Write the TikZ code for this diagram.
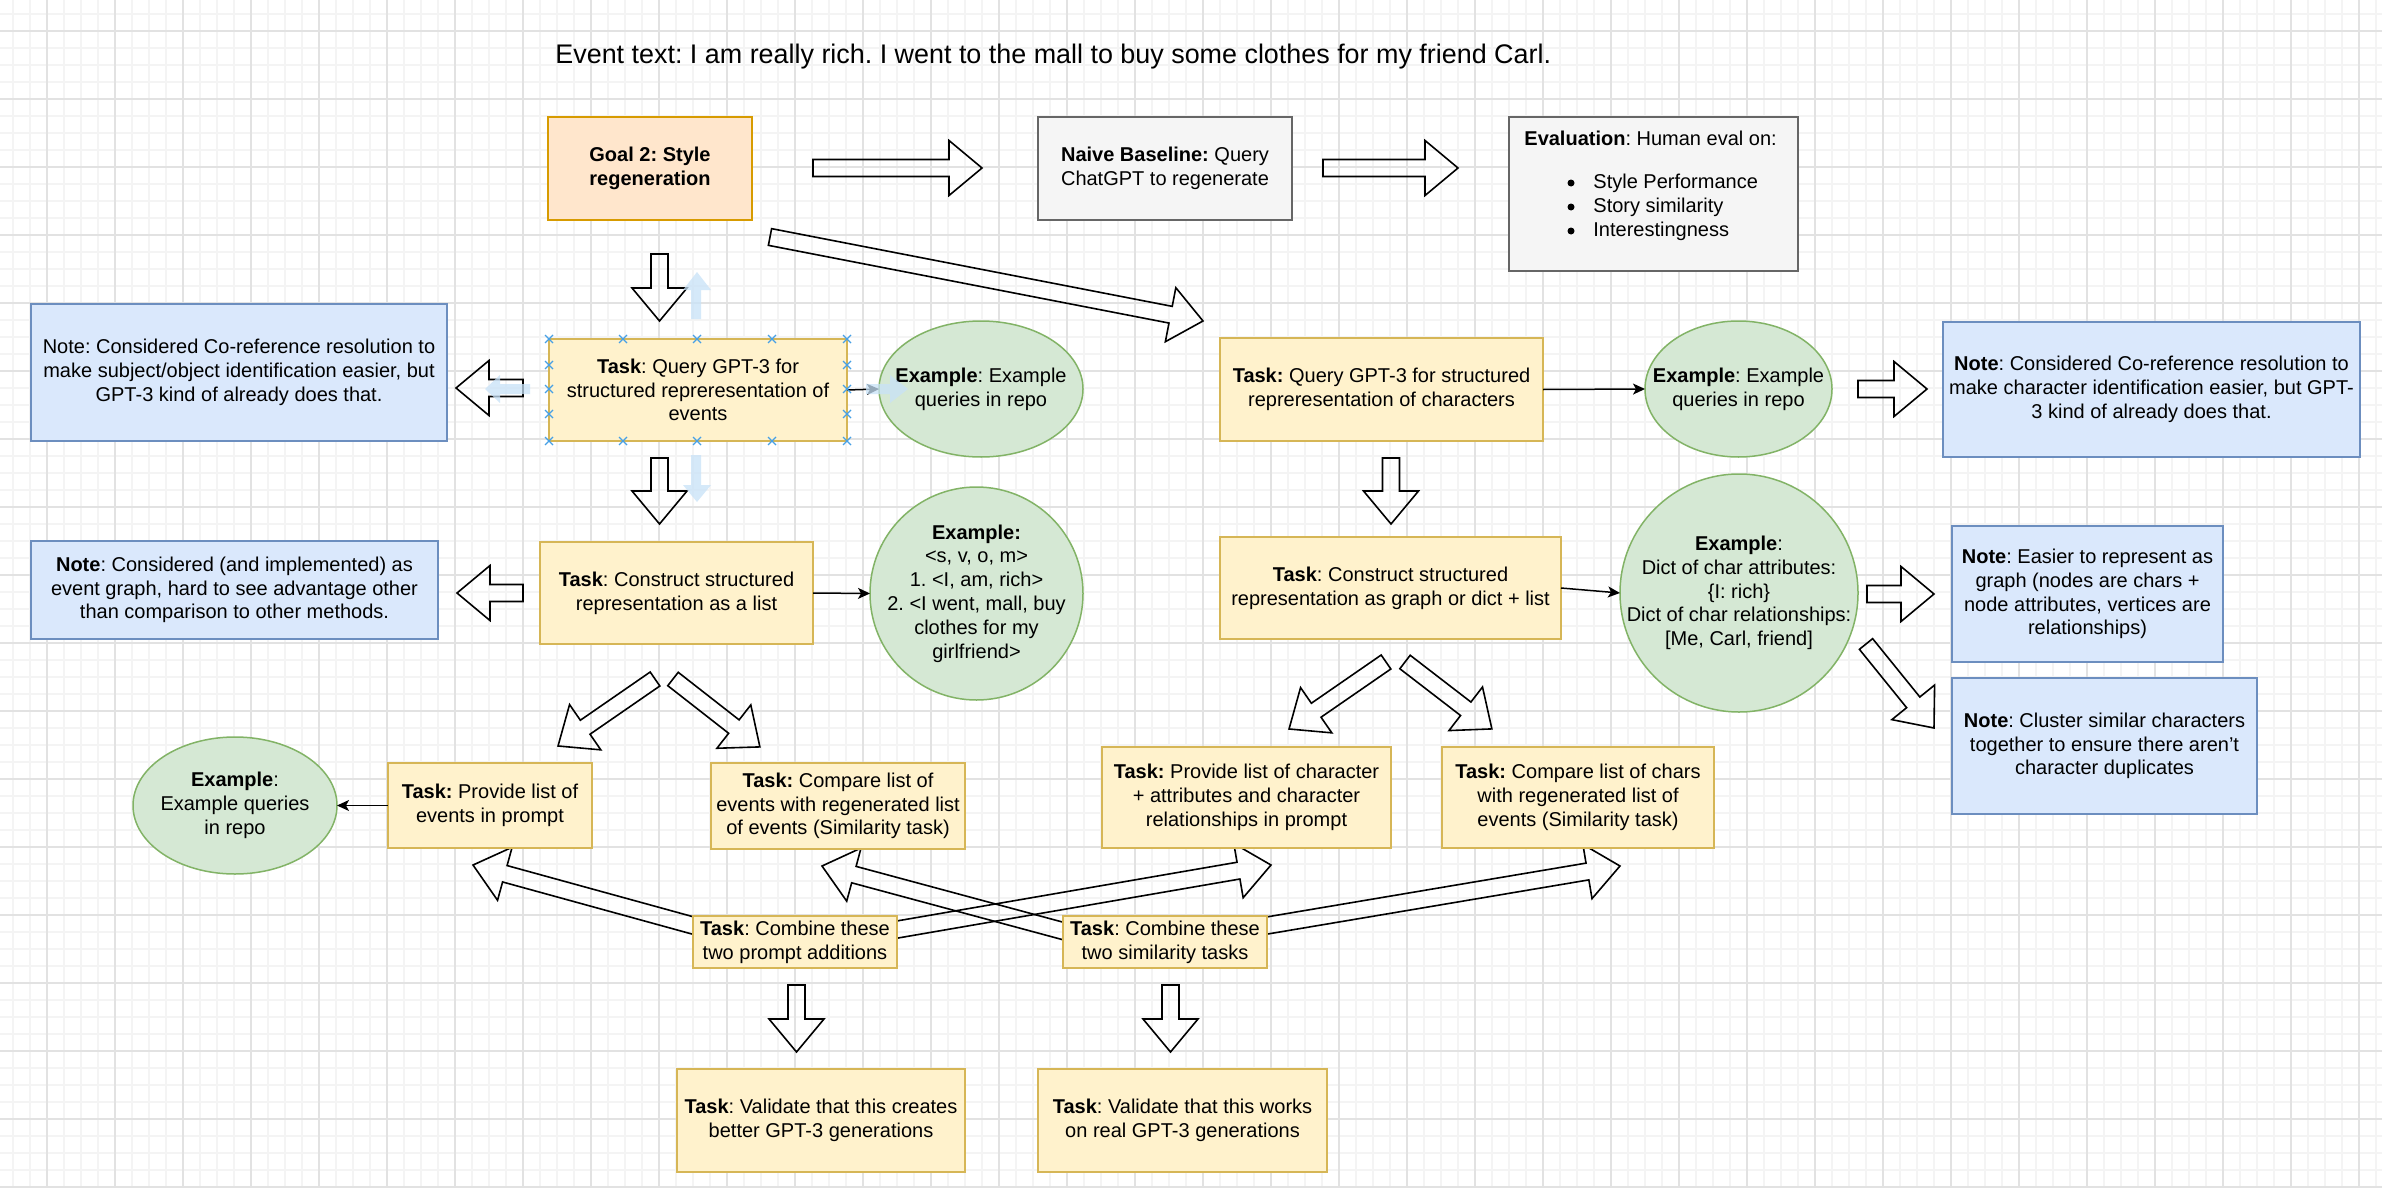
\documentclass[tikz,border=0pt]{standalone}
\usepackage{fontspec}
\setmainfont{Liberation Sans}
\frenchspacing
\usetikzlibrary{shapes.geometric,arrows.meta}
\definecolor{orfill}{HTML}{FFE6CC}\definecolor{orline}{HTML}{D79B00}
\definecolor{yefill}{HTML}{FFF2CC}\definecolor{yeline}{HTML}{D6B656}
\definecolor{blfill}{HTML}{DAE8FC}\definecolor{blline}{HTML}{6C8EBF}
\definecolor{gnfill}{HTML}{D5E8D4}\definecolor{gnline}{HTML}{82B366}
\definecolor{grfill}{HTML}{F5F5F5}\definecolor{grline}{HTML}{666666}
\definecolor{gminor}{RGB}{244,244,244}\definecolor{gmajor}{RGB}{226,226,226}
\definecolor{uix}{RGB}{70,160,230}\definecolor{uifaint}{RGB}{200,226,248}
\tikzset{
  shp/.style={draw, line width=0.75pt, inner sep=0pt, outer sep=0pt},
  goalbox/.style={shp, fill=orfill, draw=orline},
  taskbox/.style={shp, fill=yefill, draw=yeline},
  notebox/.style={shp, fill=blfill, draw=blline},
  greybox/.style={shp, fill=grfill, draw=grline},
  exell/.style={shp, ellipse, fill=gnfill, draw=gnline},
  txt/.style={align=center, inner sep=0pt, font=\fontsize{10}{11.9}\selectfont},
  blockarrow/.style={draw=black, line width=0.8pt, line join=miter},
  conn/.style={draw=black, line width=0.75pt, -{Stealth[length=6pt,width=5.5pt,inset=1.5pt]}},
  gridminor/.style={draw=gminor, line width=0.9pt},
  gridmajor/.style={draw=gmajor, line width=0.9pt},
  uimark/.style={draw=uix, line width=0.6pt},
  uiarrow/.style={fill=uifaint, opacity=0.75},
}
% box: name, style, x1, y1, x2, y2, text
\newcommand\bx[7]{%
  \node[#2, minimum width={(#5-#3)*0.5pt}, minimum height={(#6-#4)*0.5pt}] (#1) at ({(#3+#5)/2},{(#4+#6)/2}) {};
  \node[txt] (#1-t) at (#1.center) {#7};}
% block arrow from coordinate #1 (tail) to coordinate #2 (tip)
\newcommand\barrow[2]{%
  \pgfpointdiff{\pgfpointanchor{#1}{center}}{\pgfpointanchor{#2}{center}}%
  \pgfgetlastxy\bax\bay
  \pgfmathsetmacro\balen{veclen(\bax,\bay)}%
  \pgfmathsetmacro\baang{atan2(\bay,\bax)}%
  \draw[blockarrow, shift={(#1)}, rotate=\baang] (0pt,-4.25pt) -- ({\balen pt-16.5pt},-4.25pt) -- ({\balen pt-16.5pt},-13.75pt) -- (\balen pt,0pt) -- ({\balen pt-16.5pt},13.75pt) -- ({\balen pt-16.5pt},4.25pt) -- (0pt,4.25pt) -- cycle;}
\begin{document}
\begin{tikzpicture}[x=0.5pt,y=-0.5pt]
\useasboundingbox (0,0) rectangle (2382,1188);
\fill[white] (0,0) rectangle (2382,1188);
% grid
\foreach \i in {0,...,140} \draw[gridminor] ({12.7+17*\i},0) -- ({12.7+17*\i},1188);
\foreach \i in {0,...,69} \draw[gridminor] (0,{13.7+17*\i}) -- (2382,{13.7+17*\i});
\foreach \i in {0,...,34} \draw[gridmajor] ({46.7+68*\i},0) -- ({46.7+68*\i},1188);
\foreach \i in {0,...,17} \draw[gridmajor] (0,{30.7+68*\i}) -- (2382,{30.7+68*\i});

% block arrow end points
\coordinate (a1s) at (813,168);   \coordinate (a1e) at (982,168);
\coordinate (a2s) at (1323,168);  \coordinate (a2e) at (1458,168);
\coordinate (a3s) at (770,237);   \coordinate (a3e) at (1203,321);
\coordinate (a4s) at (659.5,254); \coordinate (a4e) at (659.5,321);
\coordinate (a5s) at (659.5,458); \coordinate (a5e) at (659.5,524);
\coordinate (a6s) at (523,388);   \coordinate (a6e) at (456,388);
\coordinate (a7s) at (523,593);   \coordinate (a7e) at (457,593);
\coordinate (a8s) at (1391,458);  \coordinate (a8e) at (1391,524);
\coordinate (a9s) at (1858,389);  \coordinate (a9e) at (1927,389);
\coordinate (a10s) at (1867,594); \coordinate (a10e) at (1934,594);
\coordinate (a11s) at (1866,644); \coordinate (a11e) at (1934,728);
\coordinate (a12s) at (655,679);  \coordinate (a12e) at (558,746);
\coordinate (a13s) at (673,679);  \coordinate (a13e) at (760,747);
\coordinate (a14s) at (1386,662); \coordinate (a14e) at (1289,729);
\coordinate (a15s) at (1405,662); \coordinate (a15e) at (1492,729);
\coordinate (a16s) at (704.6,928.7); \coordinate (a16e) at (473,865);
\coordinate (a17s) at (885.2,931.6); \coordinate (a17e) at (1271,865);
\coordinate (a18s) at (1074.6,934.1); \coordinate (a18e) at (822,866);
\coordinate (a19s) at (1255.2,927.5); \coordinate (a19e) at (1620,866);
\coordinate (a20s) at (796.5,985); \coordinate (a20e) at (796.5,1052);
\coordinate (a21s) at (1170.5,985); \coordinate (a21e) at (1170.5,1052);
\foreach \k in {1,...,21} {\barrow{a\k s}{a\k e}}

% title
\node[anchor=west, inner sep=0pt, font=\fontsize{13.45}{16}\selectfont] (title) at (555,57) {Event text: I am really rich. I went to the mall to buy some clothes for my friend Carl.};

% boxes
\bx{goal}{goalbox}{548}{117}{752}{220}{\textbf{Goal 2: Style}\\\textbf{regeneration}}
\bx{naive}{greybox}{1038}{117}{1292}{220}{\textbf{Naive Baseline:} Query\\ChatGPT to regenerate}
\bx{eval}{greybox}{1509}{117}{1798}{271}{}
\node[txt, anchor=west] (evalhead) at (1524,138) {\textbf{Evaluation}: Human eval on:};
\foreach \yy/\tt in {183/Style Performance,207/Story similarity,231/Interestingness} {
  \fill (1571,\yy) circle (1.75pt);
  \node[txt, anchor=west] at (1593,\yy) {\tt};}

\bx{note1}{notebox}{31}{304}{447}{441}{Note: Considered Co-reference resolution to\\make subject/object identification easier, but\\GPT-3 kind of already does that.}
\bx{task1}{taskbox}{549}{339}{847}{441}{\textbf{Task}: Query GPT-3 for\\structured repreresentation of\\events}
\bx{ex1}{exell}{879}{321}{1083}{457}{\textbf{Example}: Example\\queries in repo}
\bx{taskchar}{taskbox}{1220}{338}{1543}{441}{\textbf{Task:} Query GPT-3 for structured\\repreresentation of characters}
\bx{ex2}{exell}{1645}{321}{1832}{457}{\textbf{Example}: Example\\queries in repo}
\bx{noteR}{notebox}{1943}{322}{2360}{457}{\textbf{Note}: Considered Co-reference resolution to\\make character identification easier, but GPT-\\3 kind of already does that.}

\bx{note2}{notebox}{31}{541}{438}{639}{\textbf{Note}: Considered (and implemented) as\\event graph, hard to see advantage other\\than comparison to other methods.}
\bx{tasklist}{taskbox}{540}{542}{813}{644}{\textbf{Task}: Construct structured\\representation as a list}
\bx{exlist}{exell}{870}{487}{1083}{700}{\textbf{Example:}\\{<}s, v, o, m{>}\\1. {<}I, am, rich{>}\\2. {<}I went, mall, buy\\clothes for my\\girlfriend{>}}
\bx{taskgraph}{taskbox}{1220}{537}{1561}{639}{\textbf{Task}: Construct structured\\representation as graph or dict + list}
\bx{exchar}{exell}{1620}{474}{1858}{712}{\textbf{Example}:\\Dict of char attributes:\\\{I: rich\}\\Dict of char relationships:\\{[}Me, Carl, friend{]}}
\bx{noteE}{notebox}{1952}{526}{2223}{662}{\textbf{Note}: Easier to represent as\\graph (nodes are chars +\\node attributes, vertices are\\relationships)}
\bx{noteC}{notebox}{1952}{678}{2257}{814}{\textbf{Note}: Cluster similar characters\\together to ensure there aren't\\character duplicates}

\bx{ex3}{exell}{133}{737}{337}{874}{\textbf{Example}:\\Example queries\\in repo}
\bx{provev}{taskbox}{388}{763}{592}{848}{\textbf{Task:} Provide list of\\events in prompt}
\bx{compev}{taskbox}{711}{763}{965}{849}{\textbf{Task:} Compare list of\\events with regenerated list\\of events (Similarity task)}
\bx{provch}{taskbox}{1102}{747}{1391}{848}{\textbf{Task:} Provide list of character\\+ attributes and character\\relationships in prompt}
\bx{compch}{taskbox}{1442}{747}{1714}{848}{\textbf{Task:} Compare list of chars\\with regenerated list of\\events (Similarity task)}

\bx{combP}{taskbox}{693}{916}{897}{968}{\textbf{Task}: Combine these\\two prompt additions}
\bx{combS}{taskbox}{1063}{916}{1267}{968}{\textbf{Task}: Combine these\\two similarity tasks}
\bx{val1}{taskbox}{677}{1069}{965}{1172}{\textbf{Task}: Validate that this creates\\better GPT-3 generations}
\bx{val2}{taskbox}{1038}{1069}{1327}{1172}{\textbf{Task}: Validate that this works\\on real GPT-3 generations}

% connectors
\draw[conn] (task1.east) -- (ex1.west);
\draw[conn] (tasklist.east) -- (exlist.west);
\draw[conn] (taskchar.east) -- (ex2.west);
\draw[conn] (taskgraph.east) -- (exchar.west);
\draw[conn] (provev.west) -- (ex3.east);

% selection handles (editor overlay)
\foreach \xx in {549,623,697,772,847} {\foreach \yy in {339,441} {
  \draw[uimark] ({\xx-4},{\yy-4}) -- ({\xx+4},{\yy+4}) ({\xx-4},{\yy+4}) -- ({\xx+4},{\yy-4});}}
\foreach \xx in {549,847} {\foreach \yy in {365,389,414} {
  \draw[uimark] ({\xx-4},{\yy-4}) -- ({\xx+4},{\yy+4}) ({\xx-4},{\yy+4}) -- ({\xx+4},{\yy-4});}}
\fill[uiarrow] (691,319) -- (691,290) -- (683,290) -- (697,272) -- (711,290) -- (701,290) -- (701,319) -- cycle;
\fill[uiarrow] (691,455) -- (691,485) -- (683,485) -- (697,502) -- (711,485) -- (701,485) -- (701,455) -- cycle;
\fill[uiarrow] (530,384) -- (500,384) -- (500,375) -- (485,389) -- (500,403) -- (500,394) -- (530,394) -- cycle;
\fill[uiarrow] (866,384) -- (890,384) -- (890,375) -- (908,389) -- (890,403) -- (890,394) -- (866,394) -- cycle;
\end{tikzpicture}
\end{document}
